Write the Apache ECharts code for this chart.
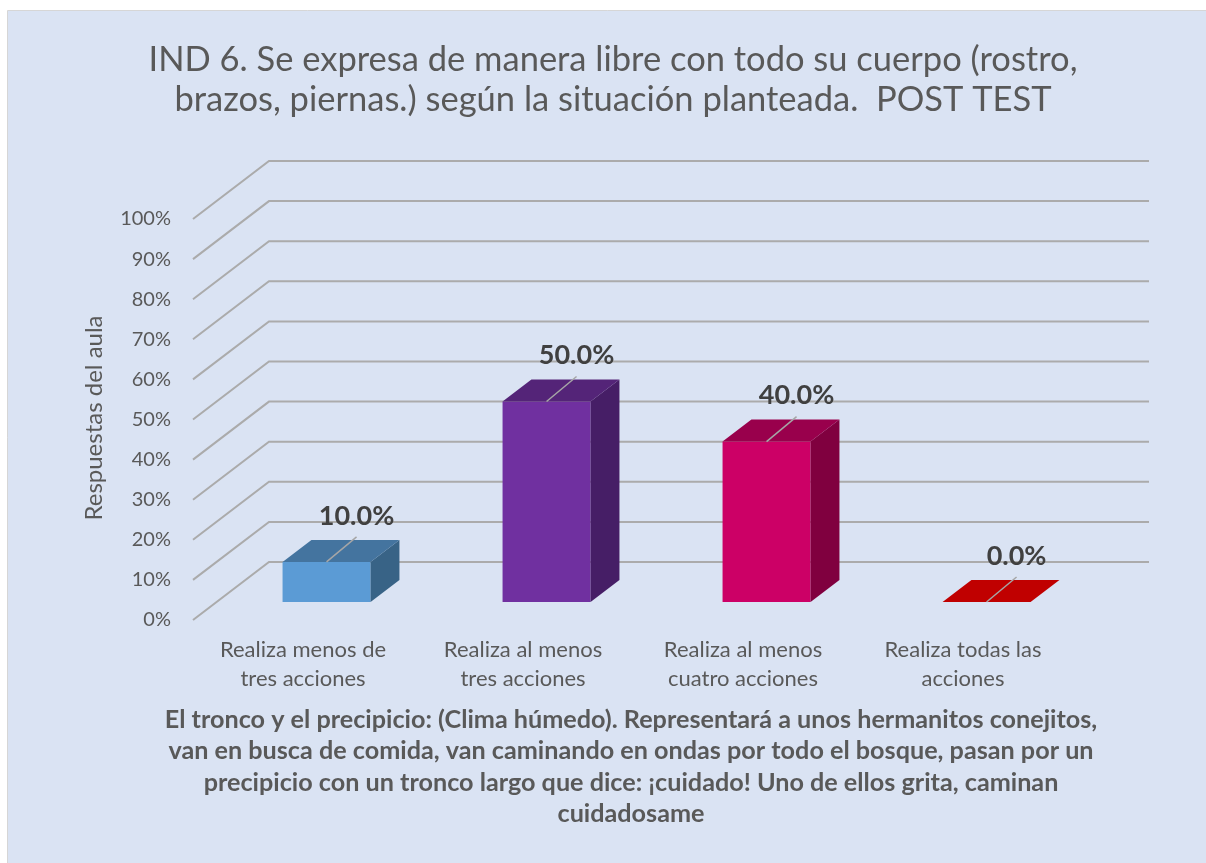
<!DOCTYPE html>
<html>
<head>
<meta charset="utf-8">
<script src="https://cdn.jsdelivr.net/npm/echarts@6/dist/echarts.min.js"></script>
<style>
html,body{margin:0;padding:0;background:#ffffff;}
#chart{width:1206px;height:863px;}
</style>
</head>
<body>
<div id="chart"></div>
<script>
// ---- data ----
const categories = [
  'Realiza menos de\ntres acciones',
  'Realiza al menos\ntres acciones',
  'Realiza al menos\ncuatro acciones',
  'Realiza todas las\nacciones'
];
const values = [10.0, 50.0, 40.0, 0.0];
const yTicks = [0, 10, 20, 30, 40, 50, 60, 70, 80, 90, 100];
const titleText = 'IND 6. Se expresa de manera libre con todo su cuerpo (rostro,\nbrazos, piernas.) según la situación planteada.  POST TEST';
const yAxisTitle = 'Respuestas del aula';
const xAxisTitle = 'El tronco y el precipicio: (Clima húmedo). Representará a unos hermanitos conejitos,\nvan en busca de comida, van caminando en ondas por todo el bosque, pasan por un\nprecipicio con un tronco largo que dice: ¡cuidado! Uno de ellos grita, caminan\ncuidadosame';

// ---- styles ----
const frontColors = ['#5b9bd5', '#7030a0', '#cc0066', '#c00000'];
const topColors   = ['#44749f', '#542478', '#99004c', '#c00000'];
const sideColors  = ['#386386', '#461e66', '#80003f', '#900000'];
const WALL = [76, -58];       // depth vector of the 3D floor
const D1 = 0.31, D2 = 0.69;   // bar depth range (fraction of floor depth)
const gridColor = '#ababab';
const font = 'Lato';

const chart = echarts.init(document.getElementById('chart'), null, {renderer: 'canvas'});

function gridItem(params, api) {
  const cs = params.coordSys;
  const v = api.value(1);
  const y = api.coord([0, v])[1];
  const x0 = cs.x;
  const x1 = cs.x + WALL[0];
  const y1 = y + WALL[1];
  const x2 = cs.x + cs.width + WALL[0];
  return {
    type: 'polyline',
    shape: {points: [[x0, y], [x1, y1], [x2, y1]]},
    style: {stroke: gridColor, lineWidth: 2, fill: null}
  };
}

function barItem(params, api) {
  const i = api.value(0);
  const v = api.value(1);
  const band = api.size([1, 0])[0];
  const w = band * 0.4;
  const base = api.coord([i, 0]);
  const topP = api.coord([i, v]);
  const fx = WALL[0] * D1, fy = WALL[1] * D1;
  const bx = WALL[0] * (D2 - D1), by = WALL[1] * (D2 - D1);
  const cx = base[0] + fx;
  const xl = cx - w / 2, xr = cx + w / 2;
  const yb = base[1] + fy;
  const yt = topP[1] + fy;
  const children = [];
  if (yb - yt > 0.5) {
    children.push({type: 'rect', shape: {x: xl, y: yt, width: w, height: yb - yt},
      style: {fill: frontColors[i]}});
    children.push({type: 'polygon', shape: {points: [[xr, yt], [xr, yb], [xr + bx, yb + by], [xr + bx, yt + by]]},
      style: {fill: sideColors[i]}});
  }
  children.push({type: 'polygon', shape: {points: [[xl, yt], [xr, yt], [xr + bx, yt + by], [xl + bx, yt + by]]},
    style: {fill: v === 0 ? frontColors[i] : topColors[i]}});
  const lx = cx + 30, ly = yt - 25;
  children.push({type: 'line', shape: {x1: cx, y1: yt, x2: lx, y2: ly},
    style: {stroke: '#a6a6a6', lineWidth: 1.5}});
  children.push({type: 'text', x: lx, y: ly - 21,
    style: {text: v.toFixed(1) + '%', fill: '#404040', font: 'bold 27px ' + font,
      align: 'center', verticalAlign: 'middle'}});
  return {type: 'group', children: children};
}

const option = {
  backgroundColor: '#ffffff',
  animation: false,
  graphic: [
    {type: 'rect', z: -10, shape: {x: 7.5, y: 10.5, width: 1220, height: 880},
      style: {fill: '#dae3f3', stroke: '#d6d6d6', lineWidth: 1}},
    {type: 'text', x: 613, y: 80, z: 10,
      style: {text: titleText, fill: '#595959', font: '34.5px ' + font, align: 'center',
        verticalAlign: 'middle', lineHeight: 40}},
    {type: 'text', x: 94, y: 418, rotation: Math.PI / 2, z: 10,
      style: {text: yAxisTitle, fill: '#595959', font: '24px ' + font, align: 'center',
        verticalAlign: 'middle'}},
    {type: 'text', x: 631, y: 767, z: 10,
      style: {text: xAxisTitle, fill: '#595959', font: 'bold 25.2px ' + font, align: 'center',
        verticalAlign: 'middle', lineHeight: 31.3}}
  ],
  grid: {left: 193, top: 219, width: 880, height: 401},
  xAxis: {
    type: 'category', data: categories,
    axisLine: {show: false}, axisTick: {show: false}, splitLine: {show: false},
    axisLabel: {color: '#595959', fontFamily: font, fontSize: 22, lineHeight: 29, margin: 15, interval: 0}
  },
  yAxis: {
    type: 'value', min: 0, max: 100, interval: 10,
    axisLine: {show: false}, axisTick: {show: false}, splitLine: {show: false},
    axisLabel: {formatter: '{value}%', color: '#595959', fontFamily: font, fontSize: 20, margin: 22}
  },
  series: [
    {type: 'custom', renderItem: gridItem, z: 1, silent: true,
      data: yTicks.map(function (t) { return [0, t]; })},
    {type: 'custom', renderItem: barItem, z: 2, silent: true,
      data: values.map(function (v, i) { return [i, v]; })}
  ]
};
chart.setOption(option);
</script>
</body>
</html>
